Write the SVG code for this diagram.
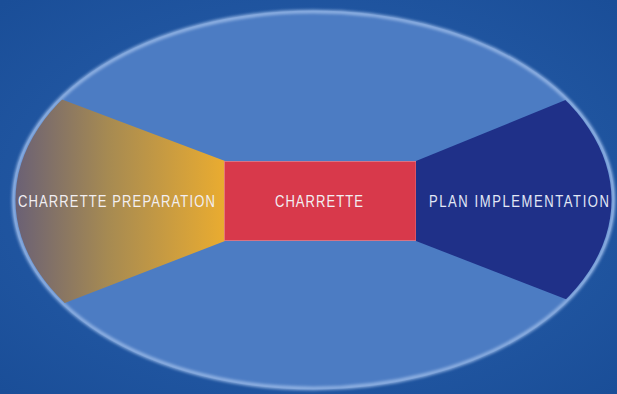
<svg xmlns="http://www.w3.org/2000/svg" width="617" height="394" viewBox="0 0 617 394">
  <defs>
    <radialGradient id="bg" cx="50%" cy="50%" r="70%">
      <stop offset="0" stop-color="#2b63b0"/>
      <stop offset="1" stop-color="#1a4e98"/>
    </radialGradient>
    <linearGradient id="prep" x1="12" y1="0" x2="225" y2="0" gradientUnits="userSpaceOnUse">
      <stop offset="0" stop-color="#685f76"/>
      <stop offset="0.45" stop-color="#a68a52"/>
      <stop offset="1" stop-color="#eaac30"/>
    </linearGradient>
    <clipPath id="inner">
      <ellipse cx="313.5" cy="200" rx="298" ry="187"/>
    </clipPath>
    <filter id="soft" x="-5%" y="-5%" width="110%" height="110%">
      <feGaussianBlur stdDeviation="1.4"/>
    </filter>
    <style>
      .lbl { font-family: "Liberation Sans", "DejaVu Sans", sans-serif; font-size: 16.5px; fill: #f2eff2; }
    </style>
  </defs>
  <rect width="617" height="394" fill="url(#bg)"/>
  <g id="oval">
    <ellipse cx="313.5" cy="200" rx="301" ry="189.5" fill="#4c7cc3"/>
    <ellipse cx="313.5" cy="200" rx="300" ry="188.5" fill="none" stroke="#9cbbe8" stroke-width="3.5" filter="url(#soft)" opacity="0.9"/>
  </g>
  <g id="connectors"/>
  <g id="node-preparation">
    <polygon points="225,161 0,76 0,328 225,241" fill="url(#prep)" clip-path="url(#inner)"/>
    <text class="lbl" transform="translate(18,207) scale(0.79,1)" style="letter-spacing:1.4px">CHARRETTE PREPARATION</text>
  </g>
  <g id="node-charrette">
    <rect x="224.5" y="161.5" width="191.5" height="79" fill="#d8394b" stroke="#e77a86" stroke-width="0.8"/>
    <text class="lbl" transform="translate(275,207) scale(0.79,1)" style="letter-spacing:1.3px">CHARRETTE</text>
  </g>
  <g id="node-implementation">
    <polygon points="416,161 617,79 617,319 416,241" fill="#1f3088" clip-path="url(#inner)"/>
    <text class="lbl" transform="translate(429,207) scale(0.79,1)" style="letter-spacing:2px;fill:#e2e8f6">PLAN IMPLEMENTATION</text>
  </g>
</svg>
